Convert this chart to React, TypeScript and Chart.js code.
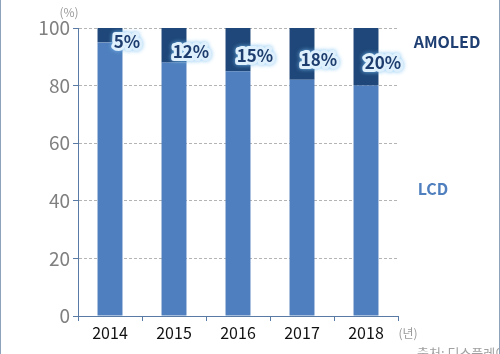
import React, { useEffect, useRef } from "react";
import { Chart, registerables } from "chart.js";

Chart.register(...registerables);

const years = ["2014", "2015", "2016", "2017", "2018"];
const lcdShare = [95, 88, 85, 82, 80];
const amoledShare = [5, 12, 15, 18, 20];
const amoledLabels = ["5%", "12%", "15%", "18%", "20%"];
const yTicks = [0, 20, 40, 60, 80, 100];

const FONT = "'Noto Sans CJK KR', 'Noto Sans', sans-serif";

const overlayPlugin = {
  id: "overlay",
  afterDatasetsDraw(chart: any) {
    const ctx = chart.ctx;
    const ca = chart.chartArea;
    const meta = chart.getDatasetMeta(1);
    const y = chart.scales.y;
    ctx.save();
    ctx.font = `bold 17px ${FONT}`;
    ctx.textAlign = "center";
    ctx.textBaseline = "middle";
    meta.data.forEach((bar: any, i: number) => {
      const top = y.getPixelForValue(100);
      const bottom = y.getPixelForValue(100 - amoledShare[i]);
      const cx = bar.x + 17;
      const cy = (top + bottom) / 2 + 6;
      const t = amoledLabels[i];
      ctx.save();
      ctx.shadowColor = "rgba(120,190,240,0.9)";
      ctx.shadowBlur = 4;
      ctx.lineJoin = "round";
      ctx.strokeStyle = "#dff0fd";
      ctx.lineWidth = 6;
      ctx.strokeText(t, cx, cy);
      ctx.restore();
      ctx.fillStyle = "#1d3d6e";
      ctx.fillText(t, cx, cy);
    });
    ctx.font = `bold 16px ${FONT}`;
    ctx.fillStyle = "#1f3f73";
    ctx.fillText("AMOLED", ca.right + 49, y.getPixelForValue(95));
    ctx.fillStyle = "#4f7fbe";
    ctx.fillText("LCD", ca.right + 35, y.getPixelForValue(44));
    ctx.font = `12px ${FONT}`;
    ctx.fillStyle = "#9a9a9a";
    ctx.fillText("(%)", ca.left - 9, 12);
    ctx.fillText("(년)", ca.right + 10, 333);
    ctx.textAlign = "left";
    ctx.font = `13px ${FONT}`;
    ctx.fillStyle = "#a0a0a0";
    ctx.fillText("출처: 디스플레이서치", 417, 353);
    ctx.strokeStyle = "#8ea3bb";
    ctx.lineWidth = 1;
    ctx.beginPath();
    ctx.moveTo(0.5, 0);
    ctx.lineTo(0.5, chart.height);
    ctx.moveTo(chart.width - 0.5, 0);
    ctx.lineTo(chart.width - 0.5, chart.height);
    ctx.stroke();
    ctx.restore();
  },
};

export default function App() {
  const ref = useRef<HTMLCanvasElement>(null);
  useEffect(() => {
    document.body.style.margin = "0";
    const chart = new Chart(ref.current!, {
      type: "bar",
      data: {
        labels: years,
        datasets: [
          {
            label: "LCD",
            data: lcdShare,
            backgroundColor: "#4f7fbe",
            categoryPercentage: 1,
            barPercentage: 0.39,
          },
          {
            label: "AMOLED",
            data: amoledShare,
            backgroundColor: "#1f4779",
            categoryPercentage: 1,
            barPercentage: 0.39,
          },
        ],
      },
      options: {
        responsive: false,
        animation: false,
        layout: { padding: { left: 0, right: 102, top: 28, bottom: 14 } },
        plugins: { legend: { display: false }, tooltip: { enabled: false } },
        scales: {
          x: {
            stacked: true,
            offset: true,
            afterFit: (s: any) => {
              s.height = 24;
            },
            grid: {
              offset: true,
              drawOnChartArea: false,
              drawTicks: true,
              tickLength: 5,
              tickColor: "#5a7aa6",
            },
            border: { color: "#5a7aa6", width: 1 },
            ticks: {
              color: "#111",
              font: { family: FONT, size: 16 },
              padding: 2,
            },
          },
          y: {
            stacked: true,
            min: 0,
            max: 100,
            afterFit: (s: any) => {
              s.width = 78;
            },
            afterBuildTicks: (s: any) => {
              s.ticks = yTicks.map((v) => ({ value: v }));
            },
            grid: {
              color: "#b4b4b4",
              tickLength: 5,
              tickColor: "#5a7aa6",
              tickBorderDash: [],
            } as any,
            border: { color: "#5a7aa6", width: 1, dash: [3, 2] },
            ticks: {
              color: "#808080",
              font: { family: FONT, size: 19 },
              padding: 3,
            },
          },
        },
      },
      plugins: [overlayPlugin],
    });
    return () => chart.destroy();
  }, []);
  return (
    <div style={{ width: 500, height: 354, background: "#fff" }}>
      <canvas ref={ref} width={500} height={354} style={{ display: "block" }} />
    </div>
  );
}
